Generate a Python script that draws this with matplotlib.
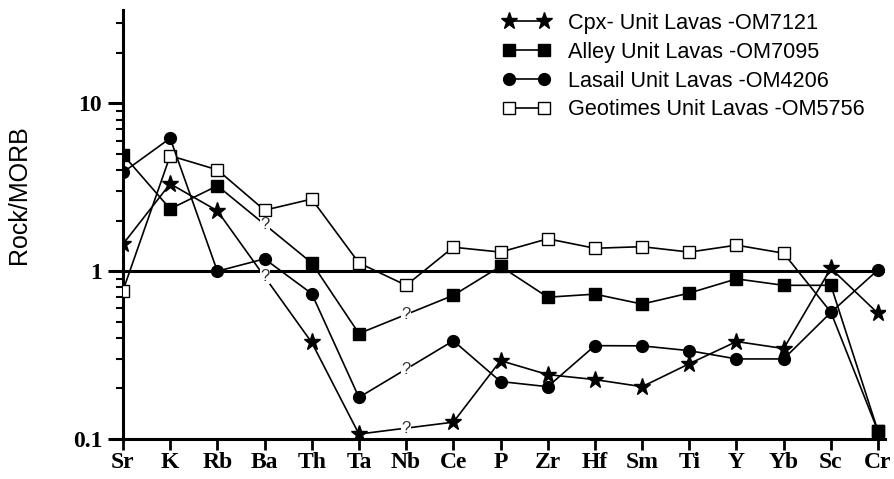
import numpy as np
import matplotlib
matplotlib.use("Agg")
import matplotlib.pyplot as plt
from matplotlib.ticker import LogLocator, NullFormatter, FixedLocator

nan = np.nan

elements = ["Sr", "K", "Rb", "Ba", "Th", "Ta", "Nb", "Ce", "P", "Zr",
            "Hf", "Sm", "Ti", "Y", "Yb", "Sc", "Cr"]

# Rock/MORB values (nan = not plotted, shown with "?")
cpx = [1.45, 3.32, 2.29, nan, 0.376, 0.107, nan, 0.126, 0.293, 0.242,
       0.226, 0.205, 0.281, 0.381, 0.346, 1.04, 0.56]
alley = [4.95, 2.35, 3.23, nan, 1.12, 0.425, nan, 0.718, 1.07, 0.70,
         0.73, 0.637, 0.741, 0.90, 0.824, 0.824, 0.111]
lasail = [3.88, 6.2, 1.0, 1.185, 0.735, 0.177, nan, 0.385, 0.22, 0.205,
          0.36, 0.359, 0.336, 0.30, 0.30, 0.568, 1.02]
geotimes = [0.766, 4.88, 4.02, 2.31, 2.69, 1.12, 0.824, 1.39, 1.30, 1.56,
            1.37, 1.40, 1.30, 1.43, 1.28, 0.57, 0.111]

labels = ["Cpx- Unit Lavas -OM7121", "Alley Unit Lavas -OM7095",
          "Lasail Unit Lavas -OM4206", "Geotimes Unit Lavas -OM5756"]

fig = plt.figure(figsize=(8.95, 4.79), dpi=100)
ax = fig.add_axes([0.1374, 0.0835, 0.8516, 0.8955])

x = np.arange(len(elements))

styles = [
    dict(marker="*", ms=12.5, mfc="black", mec="black"),
    dict(marker="s", ms=8, mfc="black", mec="black"),
    dict(marker="o", ms=8.5, mfc="black", mec="black"),
    dict(marker="s", ms=8, mfc="white", mec="black", mew=1.0),
]
series = [cpx, alley, lasail, geotimes]
zorders = [5, 4, 6, 3]

handles = []
for vals, st, lab, z in zip(series, styles, labels, zorders):
    v = np.array(vals, dtype=float)
    ok = ~np.isnan(v)
    xs, ys = x[ok], v[ok]
    marks = list(range(len(xs)))
    if vals is geotimes:
        # Sc point of this series sits under the Lasail circle
        marks = [i for i in marks if elements[xs[i]] != "Sc"]
    h, = ax.plot(xs, ys, color="black", lw=1.2, markevery=marks,
                 zorder=z, label=lab, **st)
    handles.append(h)
    # question marks where the value is missing
    for i in np.where(~ok)[0]:
        yq = 10 ** np.interp(i, xs, np.log10(ys))
        ax.text(i, yq, "?", ha="center", va="center", fontsize=12,
                family="Liberation Sans", color="#333333", zorder=z + 1,
                bbox=dict(facecolor="white", edgecolor="none", pad=0.3))

ax.axhline(1, color="black", lw=2.2, zorder=2)

ax.set_yscale("log")
ax.set_ylim(0.1, 36)
ax.set_xlim(0, 16.15)

ax.yaxis.set_major_locator(FixedLocator([0.1, 1, 10]))
ax.set_yticklabels(["0.1", "1", "10"])
ax.yaxis.set_minor_locator(LogLocator(base=10, subs=np.arange(2, 10)))
ax.yaxis.set_minor_formatter(NullFormatter())
ax.set_xticks(x)
ax.set_xticklabels(elements)

for side in ["top", "right"]:
    ax.spines[side].set_visible(False)
for side in ["left", "bottom"]:
    ax.spines[side].set_linewidth(2.2)

ax.tick_params(axis="y", which="major", length=11, width=2.2, pad=4)
ax.tick_params(axis="y", which="minor", length=5, width=1.5)
ax.tick_params(axis="x", which="major", length=8, width=2, pad=1.5)

for lab in ax.get_xticklabels() + ax.get_yticklabels():
    lab.set_family("Liberation Serif")
    lab.set_fontweight("bold")
    lab.set_fontsize(17)

ax.set_ylabel("Rock/MORB", family="Liberation Sans", fontsize=18)
ax.yaxis.set_label_coords(-0.121, 0.569)

leg = fig.legend(handles=handles, loc="upper left",
                 bbox_to_anchor=(503 / 895, 1 - 13 / 479),
                 frameon=False, numpoints=2, handlelength=2.2,
                 handletextpad=0.8, labelspacing=0.36, borderpad=0,
                 borderaxespad=0, prop=dict(family="Liberation Sans", size=15.6))

fig.savefig("out.png", dpi=100)
